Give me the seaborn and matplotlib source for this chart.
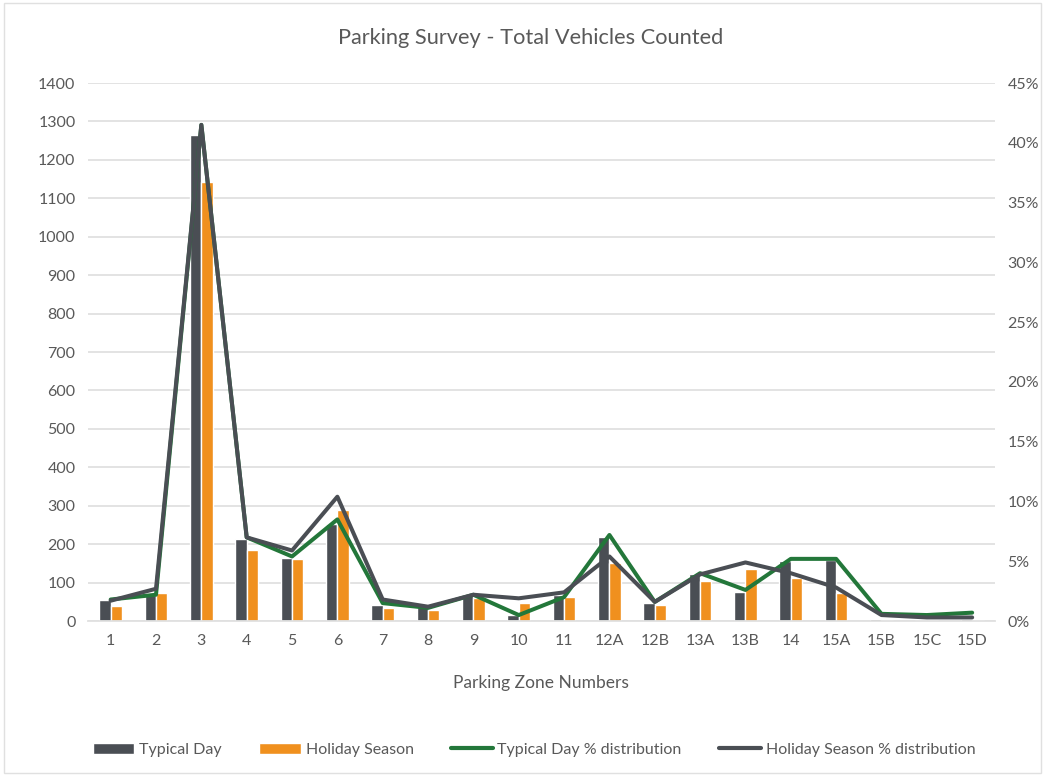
import matplotlib
matplotlib.use("Agg")
import matplotlib.pyplot as plt
from matplotlib.patches import Rectangle
from matplotlib.lines import Line2D
from matplotlib.ticker import FuncFormatter, MultipleLocator
import numpy as np
import pandas as pd
import seaborn as sns

# Survey data per parking zone
zones = ["1", "2", "3", "4", "5", "6", "7", "8", "9", "10", "11",
         "12A", "12B", "13A", "13B", "14", "15A", "15B", "15C", "15D"]
typical_day = [56, 68, 1265, 213, 164, 252, 42, 36, 67, 16, 67,
               219, 46, 122, 76, 155, 160, 5, 3, 5]
holiday_season = [40, 74, 1142, 186, 162, 288, 35, 29, 60, 48, 63,
                  150, 43, 104, 135, 112, 73, 2, 2, 3]
typical_pct = [1.8, 2.2, 41.5, 7.0, 5.4, 8.5, 1.5, 1.1, 2.2, 0.5, 2.0,
               7.2, 1.6, 4.0, 2.6, 5.2, 5.2, 0.6, 0.5, 0.7]
holiday_pct = [1.7, 2.7, 41.5, 7.0, 5.9, 10.4, 1.8, 1.2, 2.2, 1.9, 2.4,
               5.4, 1.6, 3.9, 4.9, 4.0, 2.8, 0.5, 0.3, 0.3]

series_names = ["Typical Day", "Holiday Season",
                "Typical Day % distribution", "Holiday Season % distribution"]

DARK = "#4a4e54"
ORANGE = "#f0901e"
GREEN = "#23773a"
TEXT = "#595959"
GRID = "#e0e0e0"

sns.set_theme(style="white")
plt.rcParams["font.family"] = ["Lato", "DejaVu Sans"]

fig = plt.figure(figsize=(10.45, 7.76), dpi=100)
ax = fig.add_axes([0.0842, 0.1997, 0.8678, 0.6933])

bars = pd.DataFrame({
    "zone": zones * 2,
    "count": typical_day + holiday_season,
    "series": [series_names[0]] * len(zones) + [series_names[1]] * len(zones),
})
sns.barplot(data=bars, x="zone", y="count", hue="series",
            palette=[DARK, ORANGE], width=0.5, gap=0,
            saturation=1, legend=False, ax=ax, zorder=2)

ax.set_ylim(0, 1400)
ax.set_xlim(-0.5, len(zones) - 0.5)
ax.yaxis.set_major_locator(MultipleLocator(100))
ax.grid(axis="y", color=GRID, linewidth=1.3, zorder=0)
ax.set_axisbelow(True)
for s in ["top", "right", "left"]:
    ax.spines[s].set_visible(False)
ax.spines["bottom"].set_color(GRID)
ax.spines["bottom"].set_linewidth(1.3)
ax.tick_params(axis="both", length=0, colors=TEXT, labelsize=11.5, pad=9)
ax.set_ylabel("")
ax.set_xlabel("Parking Zone Numbers", fontsize=12.5, color=TEXT, labelpad=20)

ax2 = ax.twinx()
pos = np.arange(len(zones))
sns.lineplot(x=pos, y=typical_pct, color=GREEN, linewidth=2.9, ax=ax2)
sns.lineplot(x=pos, y=holiday_pct, color=DARK, linewidth=2.9, ax=ax2)
ax2.set_ylim(0, 45)
ax2.set_xlim(-0.5, len(zones) - 0.5)
ax2.yaxis.set_major_locator(MultipleLocator(5))
ax2.yaxis.set_major_formatter(FuncFormatter(lambda v, _: f"{v:.0f}%"))
for s in ["top", "right", "left", "bottom"]:
    ax2.spines[s].set_visible(False)
ax2.tick_params(axis="y", length=0, colors=TEXT, labelsize=11.5, pad=9)
ax2.grid(False)

fig.text(0.508, 0.951, "Parking Survey - Total Vehicles Counted",
         ha="center", va="center", fontsize=15.7, color=TEXT)

handles = [
    Rectangle((0, 0), 1, 1, facecolor=DARK),
    Rectangle((0, 0), 1, 1, facecolor=ORANGE),
    Line2D([], [], color=GREEN, linewidth=3.0),
    Line2D([], [], color=DARK, linewidth=3.0),
]
fig.legend(handles, series_names, loc="center", bbox_to_anchor=(0.511, 0.034),
           ncol=4, frameon=False, fontsize=11.5, labelcolor=TEXT,
           handlelength=2.6, handleheight=0.7, handletextpad=0.3,
           columnspacing=2.35)

fig.patches.append(Rectangle((0.004, 0.004), 0.992, 0.992, transform=fig.transFigure,
                             fill=False, edgecolor=GRID, linewidth=1.0))

fig.savefig("out.png", dpi=100)
